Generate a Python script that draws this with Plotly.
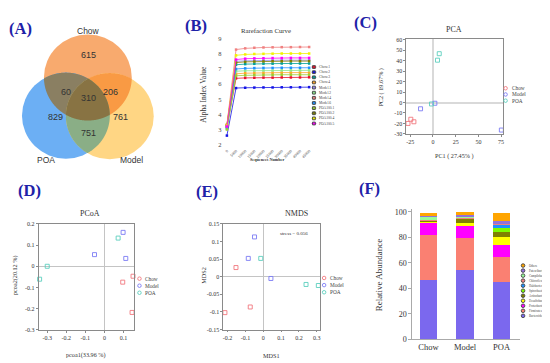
import numpy as np
import plotly.graph_objects as go

W, H = 550, 363
SERIF = "Liberation Serif"
SANS = "Liberation Sans"

# ---------------- DATA ----------------
# (A) Venn
venn_sets = ["Chow", "POA", "Model"]
venn_regions = ["Chow", "Chow&POA", "Chow&POA&Model", "Chow&Model", "POA", "Model", "POA&Model"]
venn_counts = [615, 60, 310, 206, 829, 761, 751]

# (B) Rarefaction
rare_depth = [0, 5000, 10000, 15000, 20000, 25000, 30000, 35000, 40000, 45000]
rare_ticktext = ["0", "5000", "10000", "15000", "20000", "25000", "30000", "35000", "40000", "45000"]
rare_names = ["Chow.1", "Chow.2", "Chow.3", "Chow.4", "Model.1", "Model.2", "Model.4", "Model.6",
              "POA100.1", "POA100.2", "POA100.4", "POA100.5"]
chow1 = [3.20, 6.38, 6.41, 6.42, 6.43, 6.43, 6.44, 6.44, 6.44, 6.45]
chow2 = [2.60, 5.74, 5.76, 5.77, 5.78, 5.78, 5.79, 5.79, 5.79, 5.80]
chow3 = [3.20, 7.28, 7.32, 7.34, 7.35, 7.35, 7.36, 7.36, 7.36, 7.36]
chow4 = [3.30, 6.68, 6.72, 6.74, 6.75, 6.75, 6.76, 6.76, 6.76, 6.76]
model1 = [3.25, 7.50, 7.54, 7.56, 7.57, 7.57, 7.58, 7.58, 7.58, 7.58]
model2 = [3.05, 6.85, 6.88, 6.89, 6.90, 6.90, 6.91, 6.91, 6.91, 6.91]
model4 = [3.30, 8.28, 8.36, 8.40, 8.42, 8.43, 8.44, 8.44, 8.45, 8.45]
model6 = [3.10, 7.00, 7.04, 7.06, 7.07, 7.07, 7.08, 7.08, 7.08, 7.08]
poa1 = [3.00, 6.55, 6.58, 6.60, 6.61, 6.61, 6.62, 6.62, 6.62, 6.62]
poa2 = [3.30, 7.42, 7.47, 7.49, 7.50, 7.51, 7.51, 7.52, 7.52, 7.52]
poa4 = [3.30, 7.90, 7.96, 7.99, 8.00, 8.01, 8.02, 8.02, 8.02, 8.02]
poa5 = [3.20, 7.62, 7.68, 7.70, 7.71, 7.72, 7.72, 7.73, 7.73, 7.73]
rare_colors = ["#E8112D", "#1414E6", "#00A09A", "#FFA628", "#9A8CF0", "#8CE68C",
               "#F08080", "#1E90FF", "#9ACD32", "#808000", "#F2F200", "#FF00FF"]

# (C) PCA
groups = ["Chow", "Model", "POA"]
group_colors = ["#F2787F", "#7C7CF4", "#5CCFBE"]
pca_x = {"Chow": [-27.5, -24.4, -21.0], "Model": [-13.7, 2.1, 75.3], "POA": [-1.6, 5.0, 6.9]}
pca_y = {"Chow": [-20.0, -16.0, -18.4], "Model": [-6.0, -0.7, -26.3], "POA": [-1.4, 40.4, 46.6]}

# (D) PCoA
pcoa_x = {"Chow": [0.150, 0.096, 0.145], "Model": [-0.052, 0.098, 0.112], "POA": [-0.340, -0.300, 0.072]}
pcoa_y = {"Chow": [-0.047, -0.075, -0.218], "Model": [0.055, 0.160, 0.037], "POA": [-0.061, 0.000, 0.133]}

# (E) NMDS
nmds_x = {"Chow": [-0.215, -0.153, -0.073], "Model": [-0.049, -0.084, 0.043], "POA": [-0.014, 0.240, 0.309]}
nmds_y = {"Chow": [-0.102, 0.026, -0.086], "Model": [0.113, 0.052, -0.005], "POA": [0.052, -0.022, -0.025]}
nmds_stress = 0.056

# (F) Relative abundance
bar_groups = ["Chow", "Model", "POA"]
phyla = ["Bacteroidetes", "Firmicutes", "Proteobacteria", "Desulfobacte\u2014", "Actinobacteri\u2014",
         "Spirochaetota", "Halobacterota", "Chloroflexi", "Campilobacteria", "Patescibacteria", "Others"]
bacteroidetes = [46.5, 54.2, 45.0]
firmicutes = [35.0, 25.3, 19.4]
proteobacteria = [10.5, 9.2, 9.5]
desulfobacterota = [0.5, 2.5, 6.6]
actinobacteriota = [1.0, 3.5, 3.6]
spirochaetota = [0.3, 0.5, 2.8]
halobacterota = [0.1, 0.2, 3.1]
chloroflexi = [0.3, 0.3, 1.2]
campilobacterota = [1.5, 0.8, 0.3]
patescibacteria = [1.6, 1.3, 1.0]
others = [1.4, 1.7, 6.4]
phyla_colors = ["#7B68EE", "#FA8072", "#FF00FF", "#FFFF00", "#808000", "#7CFC00",
                "#1E90FF", "#F08080", "#98FB98", "#9370DB", "#FFA500"]

# ---------------- helpers ----------------
def xdom(p_lo, p_hi):
    return [p_lo / W, p_hi / W]

def ydom(p_top, p_bot):
    return [1 - p_bot / H, 1 - p_top / H]

def lin_range(p_a, p_b, v1, p1, v2, p2):
    s = (v2 - v1) / (p2 - p1)
    return [v1 + (p_a - p1) * s, v1 + (p_b - p1) * s]

tick_font = dict(family=SERIF, size=6, color="#333")

def box_axes(xd, xr, xtv, xtt, yd, yr, ytv, ytt, anchor_x, anchor_y, zw, zc):
    common = dict(showline=True, mirror=True, linecolor="#8a8a8a", linewidth=0.8,
                  ticks="outside", ticklen=2, tickwidth=0.6, tickcolor="#8a8a8a",
                  tickfont=tick_font, showgrid=False, zeroline=True,
                  zerolinecolor=zc, zerolinewidth=zw, fixedrange=True)
    xa = dict(domain=xd, range=xr, tickvals=xtv, ticktext=xtt, anchor=anchor_y, **common)
    ya = dict(domain=yd, range=yr, tickvals=ytv, ticktext=ytt, anchor=anchor_x, **common)
    return xa, ya

fig = go.Figure()

# ---------------- (B) rarefaction traces ----------------
rare_series = [chow1, chow2, chow3, chow4, model1, model2, model4, model6, poa1, poa2, poa4, poa5]
for name, vals, col in zip(rare_names, rare_series, rare_colors):
    fig.add_trace(go.Scatter(x=rare_depth, y=vals, mode="lines+markers", name=name,
                             line=dict(color=col, width=0.8),
                             marker=dict(symbol="square", size=2.5, color=col),
                             xaxis="x", yaxis="y", showlegend=False, cliponaxis=False))

# ---------------- (C)(D)(E) scatter traces ----------------
for (xs, ys, ax) in [(pca_x, pca_y, "2"), (pcoa_x, pcoa_y, "3"), (nmds_x, nmds_y, "4")]:
    for g, c in zip(groups, group_colors):
        fig.add_trace(go.Scatter(x=xs[g], y=ys[g], mode="markers", name=g,
                                 marker=dict(symbol="square-open", size=4, color=c, line=dict(width=0.9)),
                                 xaxis="x" + ax, yaxis="y" + ax, showlegend=False, cliponaxis=False))

# ---------------- (F) stacked bars ----------------
phyla_values = [bacteroidetes, firmicutes, proteobacteria, desulfobacterota, actinobacteriota,
                spirochaetota, halobacterota, chloroflexi, campilobacterota, patescibacteria, others]
for name, vals, col in zip(phyla, phyla_values, phyla_colors):
    fig.add_trace(go.Bar(x=bar_groups, y=vals, name=name, marker=dict(color=col, line=dict(width=0)),
                         width=0.48, xaxis="x5", yaxis="y5", showlegend=False))

# ---------------- custom legends on pixel overlay (x6/y6) ----------------
def legend_block(names, colors, mx, tx, y0, dy, size, fsize, symbol, line=False):
    ys = [y0 + i * dy for i in range(len(names))]
    for n, c, yy in zip(names, colors, ys):
        if line:
            fig.add_trace(go.Scatter(x=[mx - 2.5, mx + 2.5], y=[yy, yy], mode="lines",
                                     line=dict(color=c, width=0.7), xaxis="x6", yaxis="y6",
                                     showlegend=False, hoverinfo="skip"))
        fig.add_trace(go.Scatter(x=[mx], y=[yy], mode="markers",
                                 marker=dict(symbol=symbol, size=size, color=c, line=dict(width=0.9)),
                                 xaxis="x6", yaxis="y6", showlegend=False, hoverinfo="skip"))
        fig.add_annotation(x=tx, y=yy, xref="x6", yref="y6", text=n, showarrow=False,
                           xanchor="left", yanchor="middle",
                           font=dict(family=SERIF, size=fsize, color="#444"))

legend_block(rare_names, rare_colors, 306.5, 309.5, 57.3, 5.25, 2.8, 3.6, "square", line=True)
legend_block(groups, group_colors, 498.5, 502.5, 79.0, 6.35, 3.5, 5.3, "circle-open")
legend_block(groups, group_colors, 131.7, 135.5, 273.7, 7.2, 3.5, 5.3, "circle-open")
legend_block(groups, group_colors, 316.7, 320.5, 273.0, 7.3, 3.5, 5.3, "circle-open")
legend_block(phyla[::-1], phyla_colors[::-1], 516.0, 519.5, 260.3, 5.14, 3.6, 3.0, "circle")

# ---------------- (A) Venn ----------------
venn_centers = {"Chow": (80.0, 68.0), "POA": (58.0, 107.0), "Model": (102.0, 107.5)}
venn_r = 44.0
only_colors = {"Chow": "#F8AA6E", "POA": "#6CAFF4", "Model": "#FFD684"}
pair_colors = {("Chow", "POA"): "#8A7F62", ("Chow", "Model"): "#F99A44", ("POA", "Model"): "#8AAE86"}
triple_color = "#887343"

shapes = []
for s in venn_sets:
    cx, cy = venn_centers[s]
    shapes.append(dict(type="circle", xref="x6", yref="y6", x0=cx - venn_r, x1=cx + venn_r,
                       y0=cy - venn_r, y1=cy + venn_r, fillcolor=only_colors[s],
                       line=dict(width=0), layer="below"))

def region_path(names):
    pts = []
    th = np.linspace(0, 2 * np.pi, 720, endpoint=False)
    for n in names:
        cx, cy = venn_centers[n]
        px = cx + venn_r * np.cos(th)
        py = cy + venn_r * np.sin(th)
        keep = np.ones_like(px, dtype=bool)
        for m in names:
            if m == n:
                continue
            ox, oy = venn_centers[m]
            keep &= (px - ox) ** 2 + (py - oy) ** 2 <= venn_r ** 2 + 1e-6
        pts += list(zip(px[keep], py[keep]))
    pts = np.array(pts)
    c = pts.mean(axis=0)
    order = np.argsort(np.arctan2(pts[:, 1] - c[1], pts[:, 0] - c[0]))
    pts = pts[order]
    return "M " + " L ".join(f"{x:.2f},{y:.2f}" for x, y in pts) + " Z"

for pair, col in pair_colors.items():
    shapes.append(dict(type="path", xref="x6", yref="y6", path=region_path(pair),
                       fillcolor=col, line=dict(width=0), layer="below"))
shapes.append(dict(type="path", xref="x6", yref="y6", path=region_path(venn_sets),
                   fillcolor=triple_color, line=dict(width=0), layer="below"))

venn_text_pos = [(81, 45), (58, 83), (81, 89), (103, 83), (48, 108), (113, 108), (81, 125)]
for cnt, (tx, ty) in zip(venn_counts, venn_text_pos):
    fig.add_annotation(x=tx, y=ty, xref="x6", yref="y6", text=str(cnt), showarrow=False,
                       font=dict(family=SANS, size=9, color="#333"))
for s, (tx, ty) in zip(venn_sets, [(81, 20), (38, 152), (124, 152)]):
    fig.add_annotation(x=tx, y=ty, xref="x6", yref="y6", text=s, showarrow=False,
                       font=dict(family=SANS, size=8.5, color="#333"))

# ---------------- text annotations ----------------
def txt(x, y, t, size, family=SERIF, color="#333", angle=0, bold=False):
    if bold:
        t = "<b>" + t + "</b>"
    fig.add_annotation(x=x, y=y, xref="x6", yref="y6", text=t, showarrow=False,
                       textangle=angle, font=dict(family=family, size=size, color=color))

for lab, (lx, ly) in zip(["(A)", "(B)", "(C)", "(D)", "(E)", "(F)"],
                         [(13, 17.5), (188, 15), (358, 11.5), (22, 184), (199, 185), (362, 181)]):
    txt(lx, ly, lab, 16.5, color="#1E22A8", bold=True)

txt(258, 20, "Rarefaction Curve", 6.8)
txt(195, 85, "Alpha Index Value", 7.5, angle=-90)
txt(259, 152, "Sequences Number", 4.2, bold=True)

txt(447, 19, "PCA", 8)
txt(447, 148, "PC1 ( 27.45% )", 6.2)
txt(374, 78, "PC2 ( 19.67% )", 6.2, angle=-90)

txt(82, 207, "PCoA", 8)
txt(78, 352, "pcoa1(33.96 %)", 6.2)
txt(7, 270, "pcoa2(20.12 %)", 6.2, angle=-90)

txt(289, 207, "NMDS", 8)
txt(264, 352, "MDS1", 6.2)
txt(195, 270, "MDS2", 6.2, angle=-90)
txt(287, 228, f"stress = {nmds_stress}", 5)

txt(372, 270, "Relative Abundance", 9, angle=-90)

# ---------------- axes ----------------
layout_axes = {}
# (B)
layout_axes["xaxis"] = dict(domain=xdom(215, 305), range=lin_range(215, 305, 0, 219.3, 45000, 301.7),
                            tickvals=rare_depth, ticktext=rare_ticktext, tickangle=-45,
                            tickfont=dict(family=SERIF, size=4, color="#444"), ticks="",
                            showline=False, showgrid=False, zeroline=False, anchor="y", fixedrange=True)
layout_axes["yaxis"] = dict(domain=ydom(24, 139), range=lin_range(139, 24, 9, 28.3, 2, 136.7),
                            tickvals=[2, 3, 4, 5, 6, 7, 8, 9],
                            tickfont=dict(family=SERIF, size=6.5, color="#444"), ticks="",
                            showline=False, showgrid=False, zeroline=False, anchor="x", fixedrange=True)
# (C)
xa, ya = box_axes(xdom(399, 496), lin_range(399, 496, -25, 403, 75, 494), [-25, 0, 25, 50, 75],
                  ["-25", "0", "25", "50", "75"],
                  ydom(29, 126), lin_range(126, 29, 60, 29.3, -30, 125.7),
                  [-30, -20, -10, 0, 10, 20, 30, 40, 50, 60],
                  ["-30", "-20", "-10", "0", "10", "20", "30", "40", "50", "60"],
                  "x2", "y2", 2, "#d9d9d9")
layout_axes["xaxis2"], layout_axes["yaxis2"] = xa, ya
# (D)
xa, ya = box_axes(xdom(30.7, 126.7), lin_range(30.7, 126.7, -0.3, 39.3, 0.1, 115.7),
                  [-0.3, -0.2, -0.1, 0, 0.1], ["-0.3", "-0.2", "-0.1", "0", "0.1"],
                  ydom(217.7, 326), lin_range(326, 217.7, 0.2, 217.7, -0.3, 326),
                  [-0.3, -0.2, -0.1, 0, 0.1, 0.2], ["-0.3", "-0.2", "-0.1", "0", "0.1", "0.2"],
                  "x3", "y3", 1, "#c4c4c4")
layout_axes["xaxis3"], layout_axes["yaxis3"] = xa, ya
# (E)
xa, ya = box_axes(xdom(215.7, 312.7), lin_range(215.7, 312.7, -0.2, 220, 0.3, 309.3),
                  [-0.2, -0.1, 0, 0.1, 0.2, 0.3], ["-0.2", "-0.1", "0", "0.1", "0.2", "0.3"],
                  ydom(217.7, 325.7), lin_range(325.7, 217.7, 0.15, 217.7, -0.15, 325.7),
                  [-0.15, -0.1, -0.05, 0, 0.05, 0.1, 0.15],
                  ["-0.15", "-0.1", "-0.05", "0", "0.05", "0.1", "0.15"],
                  "x4", "y4", 1, "#c4c4c4")
layout_axes["xaxis4"], layout_axes["yaxis4"] = xa, ya
# (F)
layout_axes["xaxis5"] = dict(domain=xdom(405, 512.7), type="category",
                             range=lin_range(405, 512.7, 0, 421.2, 2, 494.5),
                             tickfont=dict(family=SERIF, size=8.5, color="#333"), ticks="",
                             showline=True, linecolor="#aaa", linewidth=0.8, showgrid=False,
                             zeroline=False, anchor="y5", fixedrange=True)
layout_axes["yaxis5"] = dict(domain=ydom(202, 335.7), range=lin_range(335.7, 202, 100, 205.3, 0, 335.7),
                             tickvals=[0, 20, 40, 60, 80, 100],
                             tickfont=dict(family=SERIF, size=8, color="#333"),
                             ticks="outside", ticklen=3, tickwidth=0.6, tickcolor="#aaa",
                             showline=True, linecolor="#aaa", linewidth=0.8, showgrid=False,
                             zeroline=False, anchor="x5", fixedrange=True)
# pixel overlay
layout_axes["xaxis6"] = dict(domain=[0, 1], range=[0, W], visible=False, anchor="y6", fixedrange=True)
layout_axes["yaxis6"] = dict(domain=[0, 1], range=[H, 0], visible=False, anchor="x6", fixedrange=True)

fig.update_layout(width=W, height=H, margin=dict(l=0, r=0, t=0, b=0),
                  paper_bgcolor="white", plot_bgcolor="rgba(0,0,0,0)",
                  barmode="stack", showlegend=False, shapes=shapes, **layout_axes)

fig.write_html("out.html")
